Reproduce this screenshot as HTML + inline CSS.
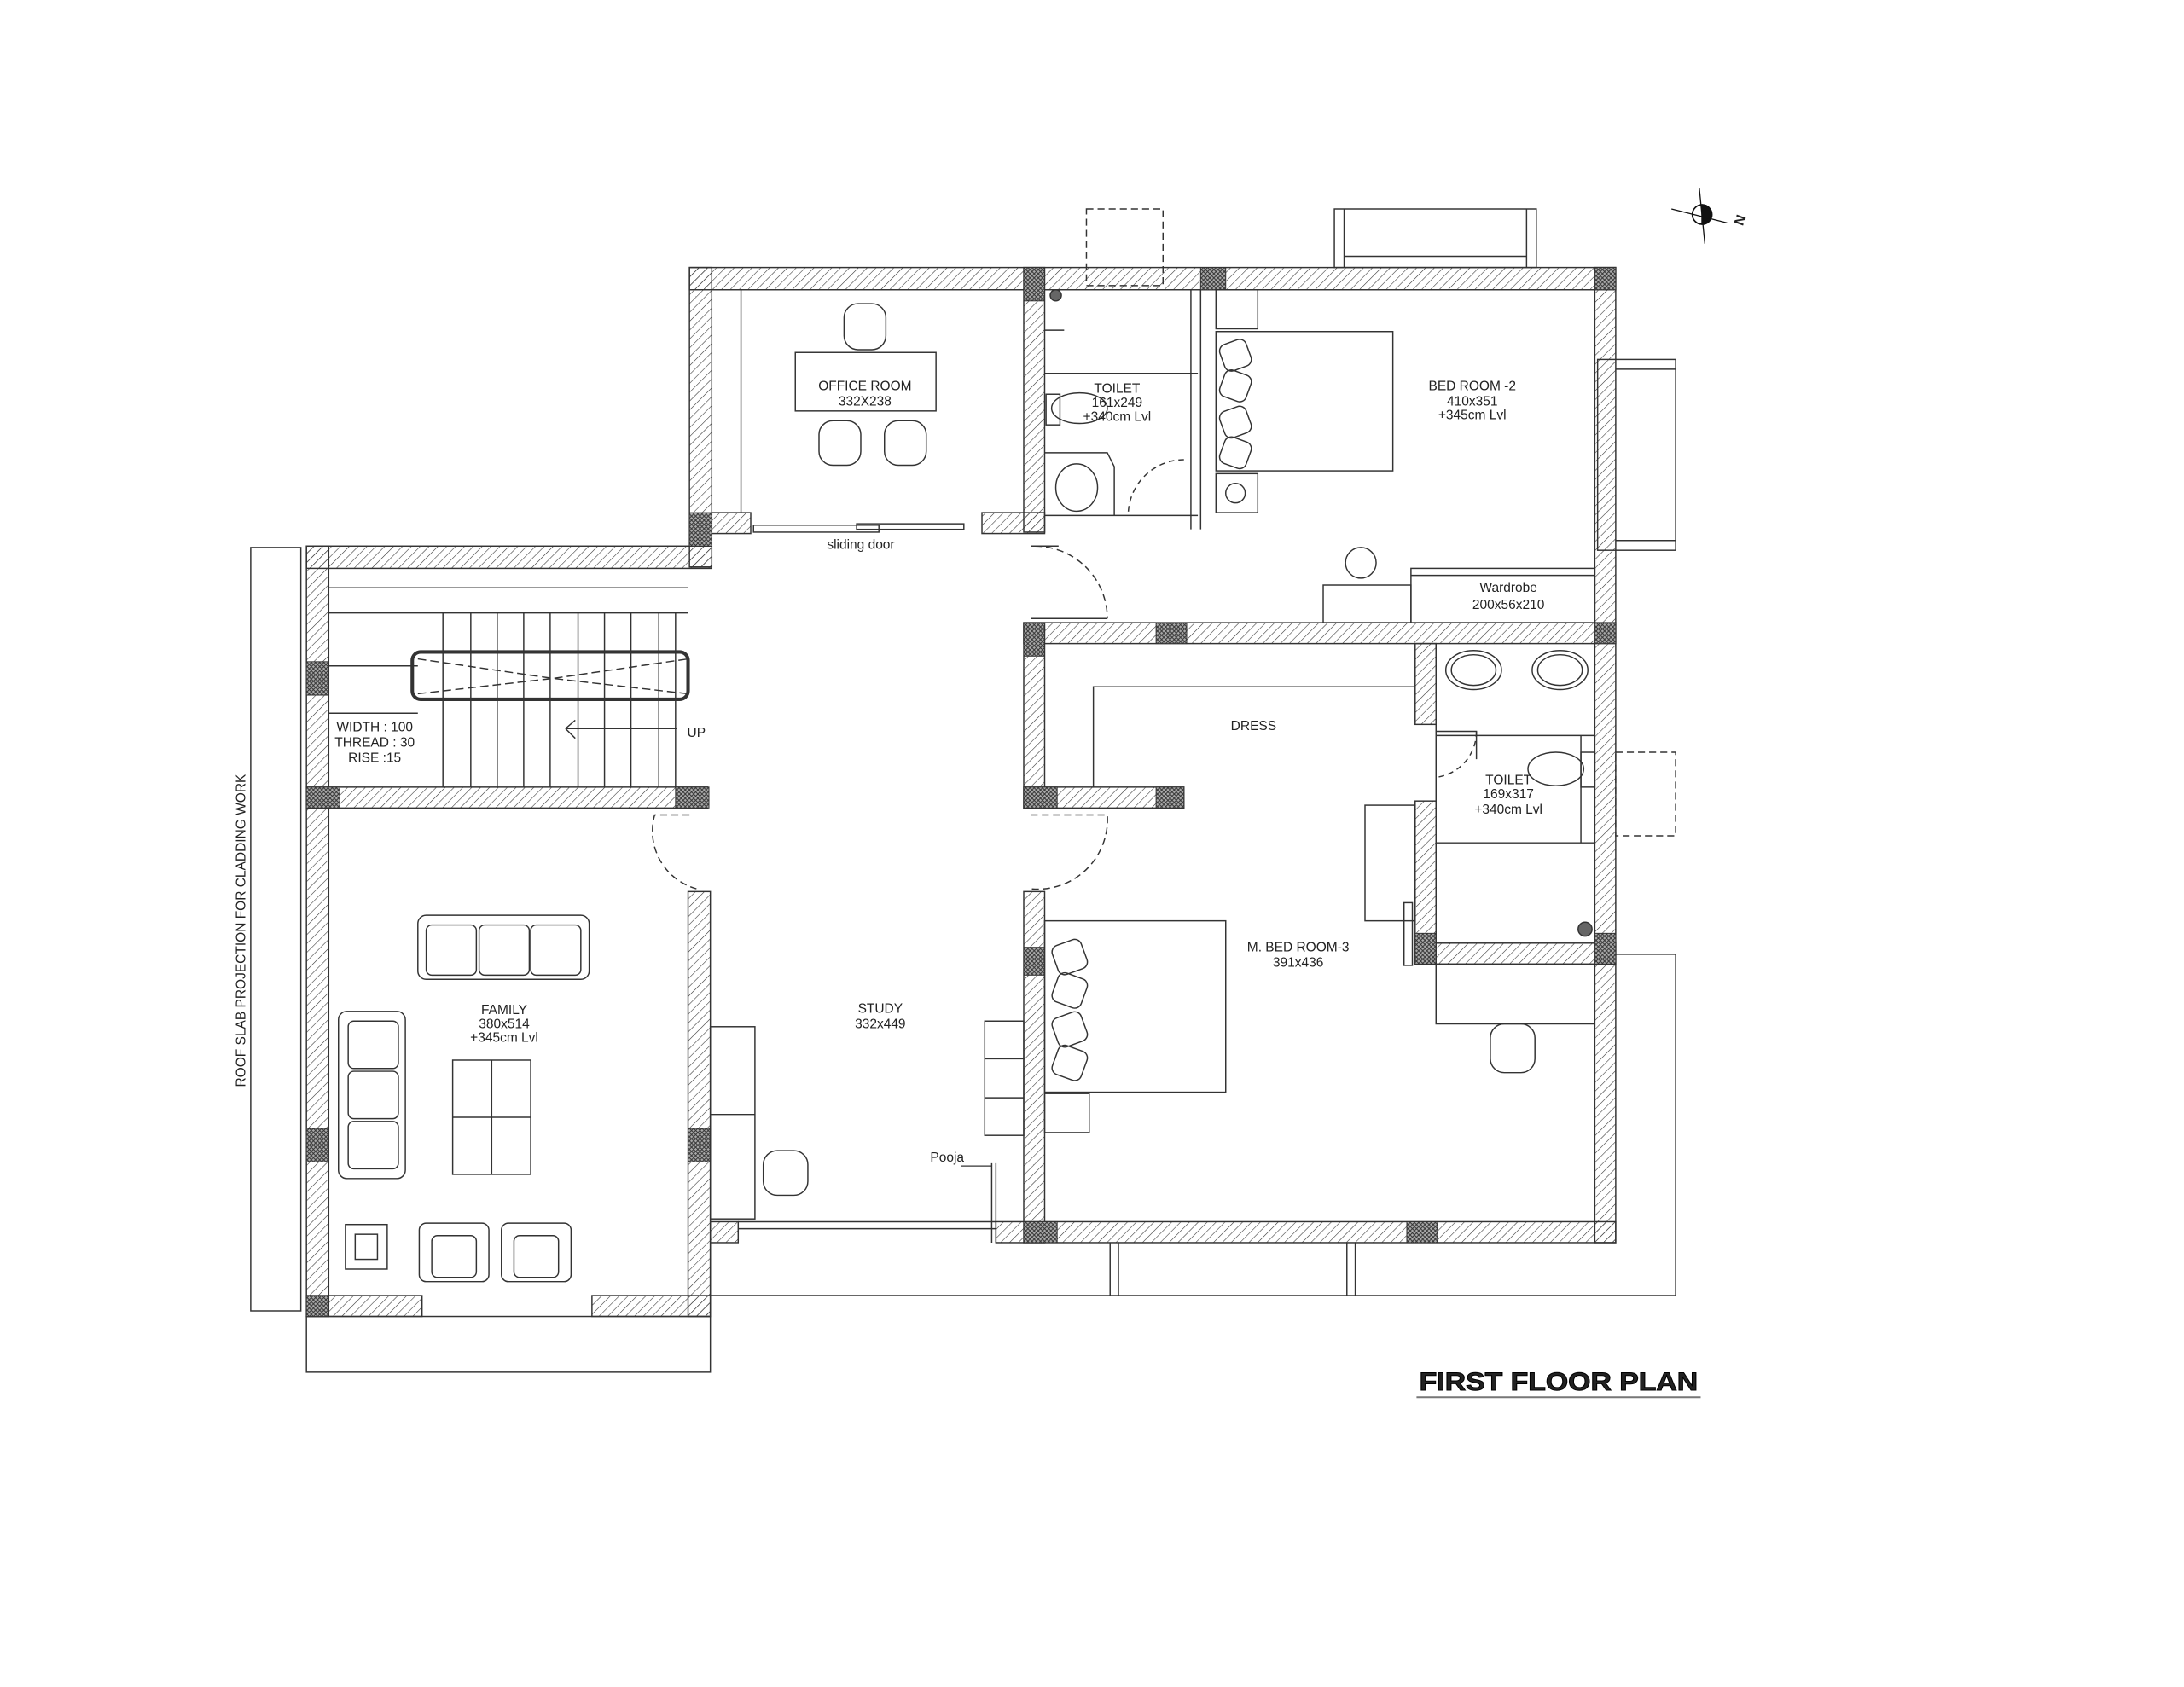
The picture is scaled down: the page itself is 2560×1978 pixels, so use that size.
<!DOCTYPE html>
<html><head><meta charset="utf-8"><style>
html,body{margin:0;padding:0;background:#fff}
svg{display:block}
text{font-family:"Liberation Sans",sans-serif;fill:#222}
</style></head><body>
<svg width="2560" height="1978" viewBox="0 0 1568 1211" preserveAspectRatio="none" xmlns="http://www.w3.org/2000/svg">
<defs>
<pattern id="h" width="4.5" height="4.5" patternUnits="userSpaceOnUse" patternTransform="rotate(45)"><line x1="0" y1="0" x2="0" y2="4.5" stroke="#333" stroke-width="0.7"/></pattern>
<pattern id="x" width="3" height="3" patternUnits="userSpaceOnUse"><rect width="3" height="3" fill="#aaa"/><path d="M0 0L3 3M3 0L0 3" stroke="#333" stroke-width="0.6"/></pattern>
</defs>
<g fill="none" stroke="#333" stroke-width="0.9">
<rect x="180" y="393" width="36" height="548"/>
<rect x="220" y="945" width="290" height="40"/>
<path d="M510 892V930H1203V685H1160"/>
<path d="M797 892V930M803 892V930M967 892V930M973 892V930"/>
<rect x="958" y="150" width="145" height="42"/>
<path d="M965 150V192M1096 150V192M965 184H1096"/>
<rect x="1147" y="258" width="56" height="137"/>
<path d="M1160 265H1203M1160 388H1203"/>
<rect x="780" y="150" width="55" height="55" stroke-dasharray="5,3"/>
<rect x="1160" y="540" width="43" height="60" stroke-dasharray="5,3"/>
</g>
<g fill="url(#h)" stroke="#333" stroke-width="0.9">
<rect x="495" y="192" width="665" height="16"/>
<rect x="495" y="192" width="16" height="215"/>
<rect x="220" y="392" width="291" height="16"/>
<rect x="220" y="392" width="16" height="553"/>
<rect x="220" y="565" width="288" height="15"/>
<rect x="220" y="930" width="83" height="15"/>
<rect x="425" y="930" width="85" height="15"/>
<rect x="494" y="640" width="16" height="305"/>
<rect x="510" y="877" width="20" height="15"/>
<rect x="715" y="877" width="445" height="15"/>
<rect x="735" y="640" width="15" height="252"/>
<rect x="735" y="447" width="425" height="15"/>
<rect x="735" y="447" width="15" height="133"/>
<rect x="735" y="565" width="115" height="15"/>
<rect x="1145" y="192" width="15" height="700"/>
<rect x="735" y="192" width="15" height="190"/>
<rect x="705" y="368" width="45" height="15"/>
<rect x="511" y="368" width="28" height="15"/>
<rect x="1016" y="462" width="15" height="58"/>
<rect x="1016" y="575" width="15" height="117"/>
<rect x="1031" y="677" width="129" height="15"/>
</g>
<g fill="url(#x)" stroke="#333" stroke-width="0.6">
<rect x="495" y="368" width="16" height="24"/><rect x="735" y="192" width="15" height="24"/><rect x="862" y="192" width="18" height="16"/><rect x="1145" y="192" width="15" height="16"/>
<rect x="220" y="475" width="16" height="24"/><rect x="220" y="565" width="24" height="15"/><rect x="485" y="565" width="24" height="15"/>
<rect x="735" y="447" width="15" height="24"/><rect x="830" y="447" width="22" height="15"/><rect x="1145" y="447" width="15" height="15"/>
<rect x="735" y="565" width="24" height="15"/><rect x="830" y="565" width="20" height="15"/>
<rect x="735" y="680" width="15" height="20"/><rect x="735" y="877" width="24" height="15"/><rect x="1010" y="877" width="22" height="15"/>
<rect x="220" y="810" width="16" height="24"/><rect x="494" y="810" width="16" height="24"/><rect x="220" y="930" width="16" height="15"/>
<rect x="1016" y="670" width="15" height="22"/><rect x="1145" y="670" width="15" height="22"/>
</g>
<g fill="none" stroke="#333" stroke-width="0.9">
<path d="M532 208V368"/>
<rect x="571" y="253" width="101" height="42"/>
<rect x="606" y="218" width="30" height="33" rx="10"/>
<rect x="588" y="302" width="30" height="32" rx="10"/>
<rect x="635" y="302" width="30" height="32" rx="10"/>
<rect x="541" y="377" width="90" height="5"/><rect x="615" y="376" width="77" height="4"/>
<path d="M750 268H860M750 325H795L800 335V370M750 370H860"/>
<ellipse cx="773" cy="350" rx="15" ry="17"/>
<ellipse cx="775" cy="293" rx="20" ry="11"/><rect x="751" y="283" width="10" height="22"/>
<path d="M850 330A40 40 0 0 0 810 370" stroke-dasharray="4,3"/>
<path d="M743 392A52 52 0 0 1 795 444" stroke-dasharray="5,3"/>
<path d="M740 392H760M740 444H795"/>
<path d="M855 208V380M862 208V380"/>
<rect x="873" y="208" width="30" height="28"/><rect x="873" y="340" width="30" height="28"/>
<rect x="873" y="238" width="127" height="100"/>
<rect x="877" y="245" width="20" height="20" rx="5" transform="rotate(-20 887 255)"/>
<rect x="877" y="267" width="20" height="20" rx="5" transform="rotate(20 887 277)"/>
<rect x="877" y="293" width="20" height="20" rx="5" transform="rotate(-20 887 303)"/>
<rect x="877" y="315" width="20" height="20" rx="5" transform="rotate(20 887 325)"/>
<circle cx="887" cy="354" r="7"/>
<circle cx="977" cy="404" r="11"/>
<rect x="950" y="420" width="63" height="27"/>
<rect x="1013" y="408" width="132" height="39"/><path d="M1013 413H1145"/>
<path d="M236 422H494M236 440H494M236 478H300M236 512H300"/>
<path d="M318 440V565M338 440V565M357 440V565M376 440V565M395 440V565M415 440V565M434 440V565M453 440V565M473 440V565M485 440V565"/>
<rect x="296" y="468" width="198" height="34" rx="6" stroke-width="2.5"/>
<path d="M300 473L397 487L494 473M300 498L397 487L494 498" stroke-dasharray="6,3"/>
<path d="M406 523H486M406 523L413 517M406 523L413 530"/>
<path d="M495 585H470A43 43 0 0 0 500 638" stroke-dasharray="5,3"/>
<path d="M740 585H795A50 50 0 0 1 740 638" stroke-dasharray="5,3"/>
<rect x="300" y="657" width="123" height="46" rx="6"/>
<rect x="306" y="664" width="36" height="36" rx="4"/><rect x="344" y="664" width="36" height="36" rx="4"/><rect x="381" y="664" width="36" height="36" rx="4"/>
<rect x="243" y="726" width="48" height="120" rx="6"/>
<rect x="250" y="733" width="36" height="34" rx="4"/><rect x="250" y="769" width="36" height="34" rx="4"/><rect x="250" y="805" width="36" height="34" rx="4"/>
<rect x="325" y="761" width="56" height="82"/><path d="M325 802H381M353 761V843"/>
<rect x="248" y="879" width="30" height="32"/><rect x="255" y="886" width="16" height="18"/>
<rect x="301" y="878" width="50" height="42" rx="5"/><rect x="310" y="887" width="32" height="30" rx="4"/>
<rect x="360" y="878" width="50" height="42" rx="5"/><rect x="369" y="887" width="32" height="30" rx="4"/>
<rect x="510" y="737" width="32" height="138"/><path d="M510 800H542"/>
<rect x="548" y="826" width="32" height="32" rx="10"/>
<rect x="707" y="733" width="28" height="82"/><path d="M707 760H735M707 788H735"/>
<path d="M530 877H715M530 882H715M712 835V892M715 835V892"/>
<rect x="750" y="661" width="130" height="123"/>
<rect x="750" y="785" width="32" height="28"/>
<rect x="757" y="676" width="22" height="22" rx="5" transform="rotate(-20 768 687)"/>
<rect x="757" y="700" width="22" height="22" rx="5" transform="rotate(20 768 711)"/>
<rect x="757" y="728" width="22" height="22" rx="5" transform="rotate(-20 768 739)"/>
<rect x="757" y="752" width="22" height="22" rx="5" transform="rotate(20 768 763)"/>
<rect x="1070" y="735" width="32" height="35" rx="10"/>
<path d="M1031 692V735H1145"/>
<path d="M785 565V493H1016"/>
<rect x="980" y="578" width="36" height="83"/>
<rect x="1008" y="648" width="6" height="45"/>
<path d="M1031 528H1145M1031 605H1145M1031 462V692M1135 528V605"/>
<ellipse cx="1058" cy="481" rx="20" ry="14"/><ellipse cx="1058" cy="481" rx="16" ry="11"/>
<ellipse cx="1120" cy="481" rx="20" ry="14"/><ellipse cx="1120" cy="481" rx="16" ry="11"/>
<ellipse cx="1117" cy="552" rx="20" ry="12"/><rect x="1135" y="540" width="10" height="25"/>
<path d="M1031 525H1060V545"/><path d="M1060 525A33 33 0 0 1 1031 558" stroke-dasharray="4,3"/>
<circle cx="1138" cy="667" r="5" fill="#666"/><circle cx="758" cy="212" r="4" fill="#666"/>
<path d="M764 237H750"/>
</g>
<g stroke="#111" fill="#111">
<circle cx="1222" cy="154" r="7" fill="none"/>
<path d="M1222 147A7 7 0 0 1 1222 161Z"/>
<path d="M1200 150L1240 160M1220 135L1224 175" stroke-width="0.8"/>
</g>
<text x="1248" y="162" font-size="10" font-weight="bold" transform="rotate(-70 1250 160)">N</text>
<g font-size="9.5" text-anchor="middle">
<text x="621" y="280">OFFICE ROOM</text><text x="621" y="291">332X238</text>
<text x="618" y="394">sliding door</text>
<text x="802" y="282">TOILET</text><text x="802" y="292">161x249</text><text x="802" y="302">+340cm Lvl</text>
<text x="1057" y="280">BED ROOM -2</text><text x="1057" y="291">410x351</text><text x="1057" y="301">+345cm Lvl</text>
<text x="1083" y="425">Wardrobe</text><text x="1083" y="437">200x56x210</text>
<text x="269" y="525">WIDTH : 100</text><text x="269" y="536">THREAD : 30</text><text x="269" y="547">RISE :15</text>
<text x="500" y="529">UP</text>
<text x="900" y="524">DRESS</text>
<text x="1083" y="563">TOILET</text><text x="1083" y="573">169x317</text><text x="1083" y="584">+340cm Lvl</text>
<text x="362" y="728">FAMILY</text><text x="362" y="738">380x514</text><text x="362" y="748">+345cm Lvl</text>
<text x="632" y="727">STUDY</text><text x="632" y="738">332x449</text>
<text x="932" y="683">M. BED ROOM-3</text><text x="932" y="694">391x436</text>
<text x="680" y="834">Pooja</text>
<text x="0" y="0" transform="translate(176 668) rotate(-90)">ROOF SLAB PROJECTION FOR CLADDING WORK</text>
</g>
<path d="M690 837H712" stroke="#333" stroke-width="0.8"/>
<text x="1019" y="998" font-size="18" font-weight="bold" fill="#000" stroke="#000" stroke-width="0.6" textLength="200" lengthAdjust="spacingAndGlyphs">FIRST FLOOR PLAN</text>
<path d="M1017 1003H1221" stroke="#777" stroke-width="1.2"/>
</svg>
</body></html>
